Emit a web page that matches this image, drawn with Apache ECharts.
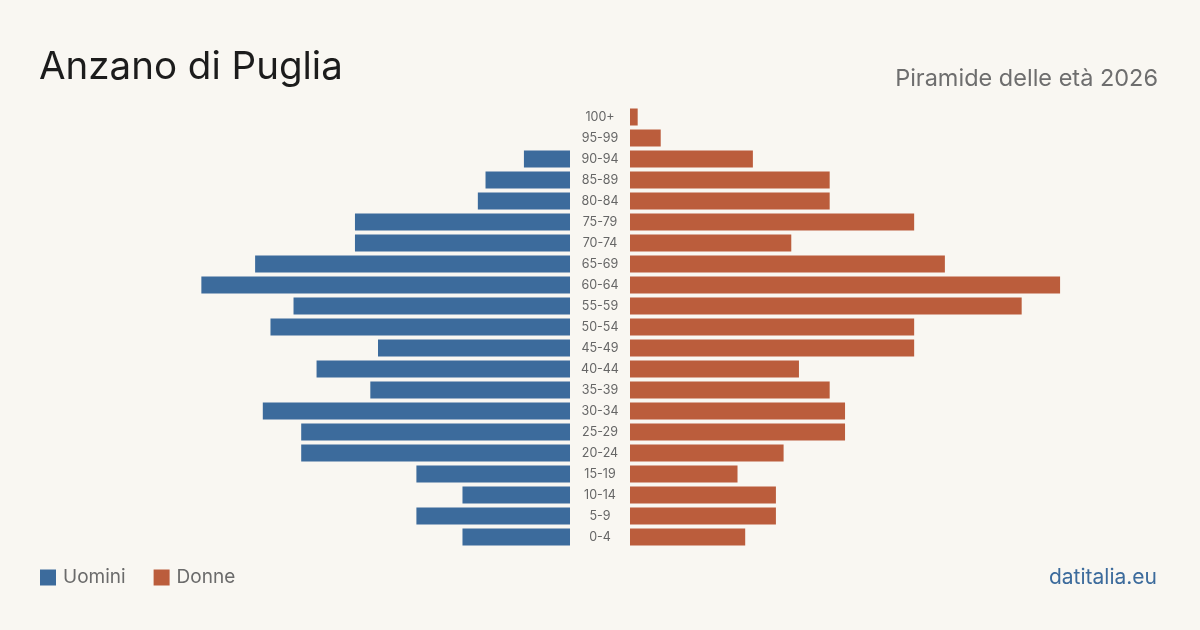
<!DOCTYPE html>
<html>
<head>
<meta charset="utf-8">
<script src="https://cdn.jsdelivr.net/npm/echarts@6/dist/echarts.min.js"></script>
<style>
html,body{margin:0;padding:0;background:#f9f7f2;}
#chart{width:1200px;height:630px;}
</style>
</head>
<body>
<div id="chart"></div>
<script>
var ages = ['100+','95-99','90-94','85-89','80-84','75-79','70-74','65-69','60-64','55-59','50-54','45-49','40-44','35-39','30-34','25-29','20-24','15-19','10-14','5-9','0-4'];
var uomini = [0,0,6,11,12,28,28,41,48,36,39,25,33,26,40,35,35,20,14,20,14];
var donne = [1,4,16,26,26,37,21,41,56,51,37,37,22,26,28,28,20,14,19,19,15];

var chart = echarts.init(document.getElementById('chart'));
var blue = '#3c6b9c';
var red = '#bb5d3c';
var axisMax = 60;
var barW = 460.8;

var option = {
    backgroundColor: '#f9f7f2',
    animation: false,
    textStyle: {fontFamily: 'Inter'},
    title: [
        {text: 'Anzano di Puglia', left: 34, top: 43, textStyle: {fontSize: 38.5, fontWeight: 'normal', color: '#1c1c1c', fontFamily: 'Inter'}},
        {text: 'Piramide delle età 2026', right: 37, top: 62, textStyle: {fontSize: 23.5, fontWeight: 'normal', color: '#6e6e6e', fontFamily: 'Inter'}},
        {text: 'datitalia.eu', right: 38, top: 562, textStyle: {fontSize: 21, fontWeight: 'normal', color: '#3c6b9c', fontFamily: 'Inter'}}
    ],
    legend: {
        left: 35, top: 563,
        itemWidth: 16, itemHeight: 16, itemGap: 28,
        icon: 'rect',
        textStyle: {fontSize: 19, color: '#6b6b6b', padding: [0, 0, 0, 2]},
        data: ['Uomini', 'Donne']
    },
    grid: [
        {left: 570 - barW, top: 106.5, width: barW, height: 441},
        {left: 630, top: 106.5, width: barW, height: 441}
    ],
    xAxis: [
        {gridIndex: 0, type: 'value', min: 0, max: axisMax, inverse: true, show: false},
        {gridIndex: 1, type: 'value', min: 0, max: axisMax, show: false}
    ],
    yAxis: [
        {gridIndex: 0, type: 'category', data: ages, inverse: true, show: false},
        {gridIndex: 1, type: 'category', data: ages, inverse: true,
            axisLine: {show: false}, axisTick: {show: false},
            axisLabel: {margin: 30, align: 'center', fontSize: 12.5, color: '#666666'}}
    ],
    series: [
        {name: 'Uomini', type: 'bar', xAxisIndex: 0, yAxisIndex: 0, data: uomini, barWidth: 17, itemStyle: {color: blue}},
        {name: 'Donne', type: 'bar', xAxisIndex: 1, yAxisIndex: 1, data: donne, barWidth: 17, itemStyle: {color: red}}
    ]
};
chart.setOption(option);
</script>
</body>
</html>
